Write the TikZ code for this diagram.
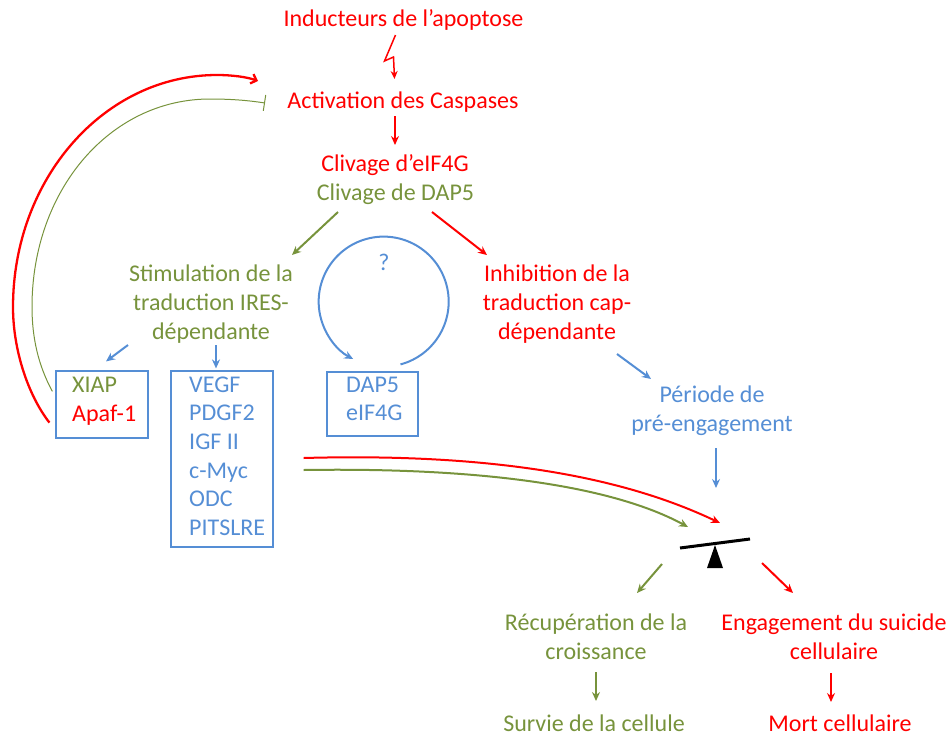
\documentclass[tikz,border=0pt]{standalone}
\usepackage{fontspec}
\setmainfont{Carlito}
\usetikzlibrary{arrows.meta}
\definecolor{apored}{HTML}{FF0000}
\definecolor{apogreen}{HTML}{77933C}
\definecolor{apoblue}{HTML}{558ED5}
\begin{document}
\begin{tikzpicture}[x=1pt, y=-1pt,
    every node/.style={font=\fontsize{24}{29.3}\selectfont, inner sep=2pt},
    txt/.style={anchor=base},
    multi/.style={align=center},
    box/.style={draw=apoblue, line width=1.2pt, inner sep=0pt},
    arr/.style={-{Stealth[length=9pt, width=8pt, inset=3pt]}, line width=2pt},
  ]
  \useasboundingbox (0,0) rectangle (950,737);

  % labels
  \node[txt, apored] (ind) at (403.5,26) {Inducteurs de l’apoptose};
  \node[txt, apored] (act) at (403,108) {Activation des Caspases};
  \node[txt, apored] (cliv) at (395,171) {Clivage d’eIF4G};
  \node[txt, apogreen] (clivdap) at (395.5,200) {Clivage de DAP5};
  \node[multi, apogreen] (stim) at (211,304) {Stimulation de la\\traduction IRES-\\dépendante};
  \node[multi, apored] (inhib) at (557,304) {Inhibition de la\\traduction cap-\\dépendante};
  \node[txt, apoblue] (quest) at (384,270) {?};
  \node[multi, apoblue] (periode) at (712,411) {Période de\\pré-engagement};
  \node[multi, apogreen] (recup) at (596,636.5) {Récupération de la\\croissance};
  \node[multi, apored] (engag) at (834,636.5) {Engagement du suicide\\cellulaire};
  \node[txt, apogreen, inner sep=0pt] (survie) at (594,731) {Survie de la cellule};
  \node[txt, apored, inner sep=0pt] (mort) at (840,731) {Mort cellulaire};

  % boxes
  \node[box, minimum width=92pt, minimum height=67pt] (xiapbox) at (102,404.5) {};
  \node[txt, anchor=base west, apogreen] (xiap) at (70,392) {XIAP};
  \node[txt, anchor=base west, apored] (apaf) at (70,421) {Apaf-1};
  \node[box, minimum width=102pt, minimum height=176pt] (vegfbox) at (222,459) {};
  \foreach \name [count=\i from 0] in {VEGF, PDGF2, IGF II, c-Myc, ODC, PITSLRE}
    \node[txt, anchor=base west, apoblue] (fac\i) at (187, 392+28.7*\i) {\name};
  \node[box, minimum width=91pt, minimum height=64pt] (dapbox) at (372.5,404) {};
  \node[txt, anchor=base west, apoblue] (dap) at (344,392) {DAP5};
  \node[txt, anchor=base west, apoblue] (eif) at (344,420) {eIF4G};

  \coordinate (pivot) at (715,545);

  % cascade
  \draw[apored, line width=1.5pt, -{Stealth[length=8pt, width=7pt, inset=2.5pt]}]
    ([shift={(-8,9)}]ind.base) -- ++(-11,26) -- ++(9,-4) -- ++(1,22);
  \draw[arr, apored] ([shift={(-8,8)}]act.base) -- ([shift={(0,-26)}]cliv.base);
  \draw[arr, apogreen] ([shift={(-57.5,12)}]clivdap.base) -- ([shift={(81,-49)}]stim.center);
  \draw[arr, apored] ([shift={(36.5,12)}]clivdap.base) -- ([shift={(-70,-49)}]inhib.center);
  \draw[arr, apoblue] ([shift={(-83,41)}]stim.center) -- ([shift={(4,-9)}]xiapbox.north);
  \draw[arr, apoblue] ([shift={(5,41)}]stim.center) -- ([shift={(-6,-2)}]vegfbox.north);
  \draw[arr, apoblue] ([shift={(60,50)}]inhib.center) -- ([shift={(-61,-32)}]periode.center);
  \draw[arr, apoblue] ([shift={(4,37)}]periode.center) -- ([shift={(1,-57)}]pivot);

  % DAP5 loop
  \draw[arr, apoblue] ([shift={(28,-7)}]dapbox.north) arc[start angle=75, end angle=-242, radius=65];

  % feedback on the caspases
  \draw[apored, line width=2.3pt, -{Straight Barb[length=5pt, width=10pt]}]
    ([shift={(-6,-16)}]xiapbox.south west) .. controls (28,395) and (13,350) .. (13,307)
    .. controls (13,179) and (104,75) .. (217,75)
    .. controls (232,75) and (247,77) .. ([shift={(-145,-27)}]act.base);
  \draw[apogreen, line width=1pt, -{Bar[width=16pt]}]
    ([shift={(-3,21)}]xiapbox.north west) .. controls (38,365) and (32,337) .. (32,307)
    .. controls (32,190) and (110,99) .. (210,99)
    .. controls (235,99) and (252,101) .. ([shift={(-138,-5)}]act.base);

  % towards the balance
  \draw[arr, apored] ([shift={(30,-1)}]vegfbox.east) .. controls (520,452) and (640,485) .. ([shift={(5,-22)}]pivot);
  \draw[arr, apogreen] ([shift={(30,11)}]vegfbox.east) .. controls (500,467) and (620,490) .. ([shift={(-27,-18)}]pivot);

  % balance
  \draw[line width=3pt] ([shift={(-35,3)}]pivot) -- ([shift={(35,-6)}]pivot);
  \fill (pivot) -- ++(-8,23) -- ++(16,0) -- cycle;

  % outcome
  \draw[arr, apogreen] ([shift={(-53,19)}]pivot) -- ([shift={(41,-43.5)}]recup.center);
  \draw[arr, apored] ([shift={(47,18)}]pivot) -- ([shift={(-41,-43.5)}]engag.center);
  \draw[arr, apogreen] ([shift={(0,35.5)}]recup.center) -- ([shift={(2,-30)}]survie.base);
  \draw[arr, apored] ([shift={(-3,36.5)}]engag.center) -- ([shift={(-9,-29)}]mort.base);
\end{tikzpicture}
\end{document}
